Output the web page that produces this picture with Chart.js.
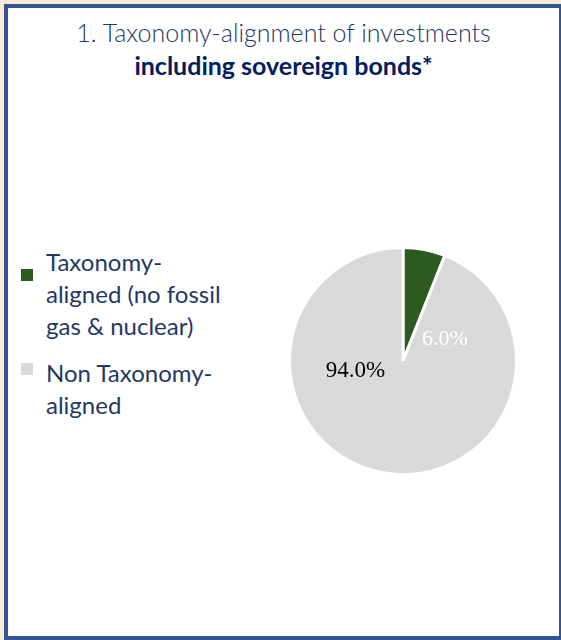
<!DOCTYPE html>
<html>
<head>
<meta charset="utf-8">
<script src="https://cdn.jsdelivr.net/npm/chart.js@4.4.0/dist/chart.umd.min.js"></script>
<style>
  html, body { margin: 0; padding: 0; background: #fde9d6; }
  #frame {
    position: absolute; left: 4px; top: 4px; width: 551px; height: 628px;
    background: #fff; border: 4px solid #2f5597; border-right-width: 2px;
  }
  .t1, .t2 { position: absolute; left: 0; width: 100%; text-align: center; font-family: Lato, sans-serif; line-height: 30px; white-space: nowrap; }
  .t1 { top: 9px; font-size: 25px; font-weight: 300; color: #1f3864; }
  .t2 { top: 42px; font-size: 25px; font-weight: 700; color: #002060; }
  #legend { position: absolute; left: 0; top: 0; }
  .item { position: absolute; left: 38px; font-family: Lato, sans-serif; font-size: 24px; line-height: 32px; color: #1f3864; white-space: nowrap; }
  .box { position: absolute; left: -25px; width: 12px; height: 12px; }
  #pie { position: absolute; left: 280px; top: 238px; }
</style>
</head>
<body>
<div id="frame">
  <div class="t1">1. Taxonomy-alignment of investments</div>
  <div class="t2">including sovereign bonds*</div>
  <div id="legend"></div>
  <canvas id="pie" width="230" height="230"></canvas>
</div>
<script>
const categories = ['Taxonomy-aligned (no fossil gas & nuclear)', 'Non Taxonomy-aligned'];
const legendLines = [['Taxonomy-', 'aligned (no fossil', 'gas & nuclear)'], ['Non Taxonomy-', 'aligned']];
const values = [6.0, 94.0];
const valueLabels = ['6.0%', '94.0%'];
const colors = ['#2d5a1f', '#d9d9d9'];

// html legend (multi-line labels)
const legend = document.getElementById('legend');
const legendTops = [238, 349];
const boxTops = [23, 6];
categories.forEach((c, i) => {
    const div = document.createElement('div');
    div.className = 'item';
    div.style.top = legendTops[i] + 'px';
    div.innerHTML = legendLines[i].join('<br>');
    const box = document.createElement('span');
    box.className = 'box';
    box.style.background = colors[i];
    box.style.top = boxTops[i] + 'px';
    div.appendChild(box);
    legend.appendChild(div);
});

const sliceLabels = {
    id: 'sliceLabels',
    afterDatasetsDraw(chart, args, opts) {
        const ctx = chart.ctx;
        const meta = chart.getDatasetMeta(0);
        ctx.save();
        ctx.textAlign = 'center';
        ctx.textBaseline = 'middle';
        meta.data.forEach((arc, i) => {
            const r = arc.outerRadius;
            const off = opts.offsets[i];
            ctx.font = opts.sizes[i] + 'px "Liberation Serif", serif';
            ctx.fillStyle = opts.colors[i];
            ctx.fillText(valueLabels[i], arc.x + off[0] * r, arc.y + off[1] * r);
        });
        ctx.restore();
    }
};

new Chart(document.getElementById('pie').getContext('2d'), {
    type: 'pie',
    data: {
        labels: categories,
        datasets: [{
            data: values,
            backgroundColor: colors,
            borderColor: '#ffffff',
            borderWidth: 3
        }]
    },
    options: {
        responsive: false,
        animation: false,
        plugins: {
            legend: { display: false },
            tooltip: { enabled: false },
            sliceLabels: {
                offsets: [[0.37, -0.19], [-0.42, 0.09]],
                colors: ['#ffffff', '#000000'],
                sizes: [22, 23]
            }
        }
    },
    plugins: [sliceLabels]
});
</script>
</body>
</html>
